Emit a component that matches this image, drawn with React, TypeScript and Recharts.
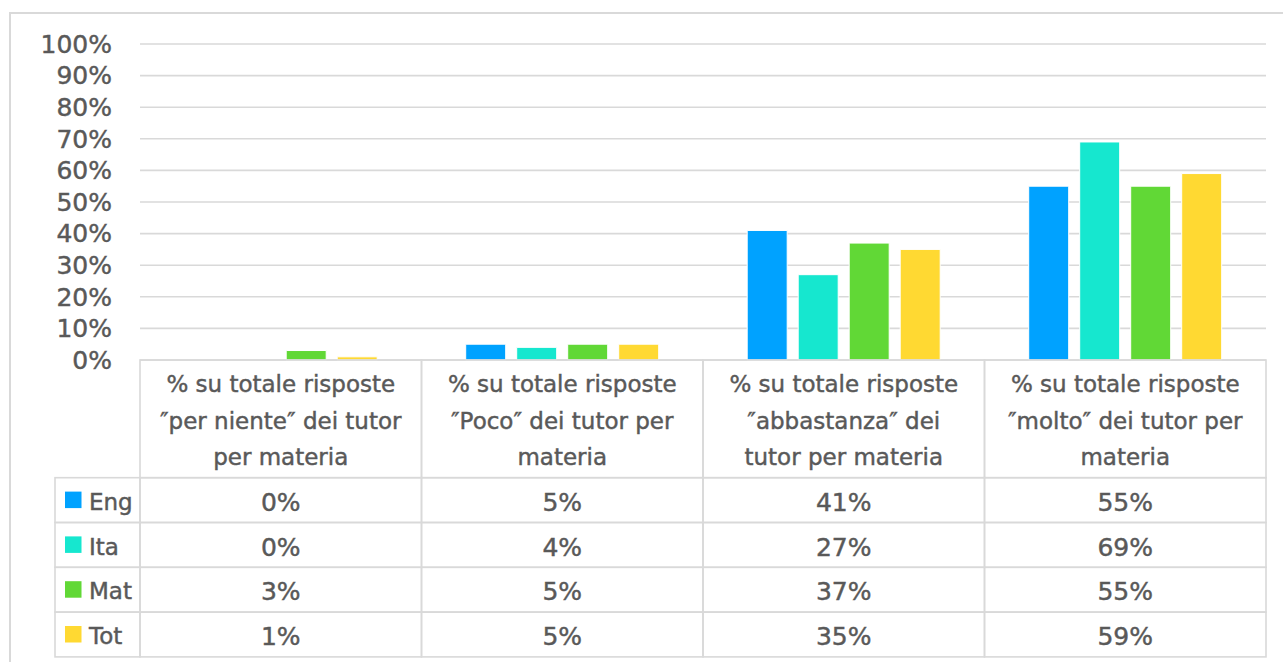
import React from 'react';
import { BarChart, Bar, XAxis, YAxis, CartesianGrid } from 'recharts';

// ---- data ----
const categories: string[] = [
  '% su totale risposte\n″per niente″ dei tutor\nper materia',
  '% su totale risposte\n″Poco″ dei tutor per\nmateria',
  '% su totale risposte\n″abbastanza″ dei\ntutor per materia',
  '% su totale risposte\n″molto″ dei tutor per\nmateria',
];
const seriesNames: string[] = ['Eng', 'Ita', 'Mat', 'Tot'];
const engValues: number[] = [0, 5, 41, 55];
const itaValues: number[] = [0, 4, 27, 69];
const matValues: number[] = [3, 5, 37, 55];
const totValues: number[] = [1, 5, 35, 59];
const yTicks: number[] = [0, 10, 20, 30, 40, 50, 60, 70, 80, 90, 100];

// ---- styles ----
const seriesColors: string[] = ['#00A2FF', '#16E7CF', '#61D836', '#FFD932'];
const TEXT = '#595959';
const LINE = '#d9d9d9';
const FONT = '"DejaVu Sans", sans-serif';
const TEXT_STROKE = 0.45;

const W = 1283;
const H = 662;
const PLOT_LEFT = 140;
const PLOT_RIGHT = 1266;
const PLOT_TOP = 44;
const PLOT_BOTTOM = 360;
const HEADER_H = 117.7;
const ROW_H = 44.8;
const LEGEND_LEFT = 55;

const seriesValues: number[][] = [engValues, itaValues, matValues, totValues];

const data = categories.map((c, i) => {
  const row: Record<string, string | number> = { cat: c };
  seriesNames.forEach((s, k) => {
    row[s] = seriesValues[k][i];
  });
  return row;
});

function TableTick(props: any) {
  const { x, y, payload } = props;
  const idx = categories.indexOf(payload.value);
  const colW = (PLOT_RIGHT - PLOT_LEFT) / categories.length;
  const x0 = x - colW / 2;
  const lines = String(payload.value).split('\n');
  return (
    <g>
      <rect x={x0} y={y} width={colW} height={HEADER_H} fill="none" stroke={LINE} strokeWidth={1.6} />
      {lines.map((l, i) => (
        <text
          key={i}
          x={x}
          y={y + 32.3 + i * 36.4}
          textAnchor="middle"
          fontFamily={FONT}
          fontSize={23}
          fill={TEXT}
          stroke={TEXT}
          strokeWidth={TEXT_STROKE}
        >
          {l}
        </text>
      ))}
      {seriesNames.map((s, r) => {
        const top = y + HEADER_H + r * ROW_H;
        return (
          <g key={s}>
            <rect x={x0} y={top} width={colW} height={ROW_H} fill="none" stroke={LINE} strokeWidth={1.6} />
            <text
              x={x}
              y={top + 33}
              textAnchor="middle"
              fontFamily={FONT}
              fontSize={25}
              fill={TEXT}
              stroke={TEXT}
              strokeWidth={TEXT_STROKE}
            >
              {seriesValues[r][idx]}%
            </text>
          </g>
        );
      })}
      {idx === 0 &&
        seriesNames.map((s, r) => {
          const top = y + HEADER_H + r * ROW_H;
          return (
            <g key={'lg' + s}>
              <rect
                x={LEGEND_LEFT}
                y={top}
                width={x0 - LEGEND_LEFT}
                height={ROW_H}
                fill="none"
                stroke={LINE}
                strokeWidth={1.6}
              />
              <rect x={65} y={top + ROW_H / 2 - 8.5} width={16.5} height={16.5} fill={seriesColors[r]} />
              <text
                x={89}
                y={top + 32}
                fontFamily={FONT}
                fontSize={23}
                fill={TEXT}
                stroke={TEXT}
                strokeWidth={TEXT_STROKE}
              >
                {s}
              </text>
            </g>
          );
        })}
    </g>
  );
}

export default function App() {
  return (
    <div
      style={{
        position: 'fixed',
        left: 0,
        top: 0,
        width: W,
        height: H,
        overflow: 'hidden',
        background: '#fff',
      }}
    >
      <div
        style={{
          position: 'absolute',
          left: 9,
          top: 12,
          width: W,
          height: H,
          borderLeft: `2px solid ${LINE}`,
          borderTop: `2px solid ${LINE}`,
        }}
      />
      <div style={{ position: 'absolute', left: 0, top: 0 }}>
        <BarChart
          width={W}
          height={H}
          data={data}
          margin={{ top: PLOT_TOP, right: W - PLOT_RIGHT, bottom: 0, left: 0 }}
          barCategoryGap="15.7%"
          barGap={11}
        >
          <CartesianGrid vertical={false} stroke={LINE} strokeWidth={1.6} />
          <XAxis
            dataKey="cat"
            height={H - PLOT_BOTTOM}
            axisLine={false}
            tickLine={false}
            tickSize={0}
            tickMargin={0}
            interval={0}
            tick={(p: any) => <TableTick {...p} />}
          />
          <YAxis
            width={PLOT_LEFT}
            domain={[0, 100]}
            ticks={yTicks}
            interval={0}
            axisLine={false}
            tickLine={false}
            tickSize={0}
            tickMargin={28}
            tickFormatter={(v: number) => `${v}%`}
            tick={{ fontFamily: FONT, fontSize: 25, fill: TEXT, stroke: TEXT, strokeWidth: TEXT_STROKE }}
          />
          {seriesNames.map((s, k) => (
            <Bar
              key={s}
              dataKey={s}
              fill={seriesColors[k]}
              stroke="#ffffff"
              strokeWidth={1}
              isAnimationActive={false}
            />
          ))}
        </BarChart>
      </div>
    </div>
  );
}
